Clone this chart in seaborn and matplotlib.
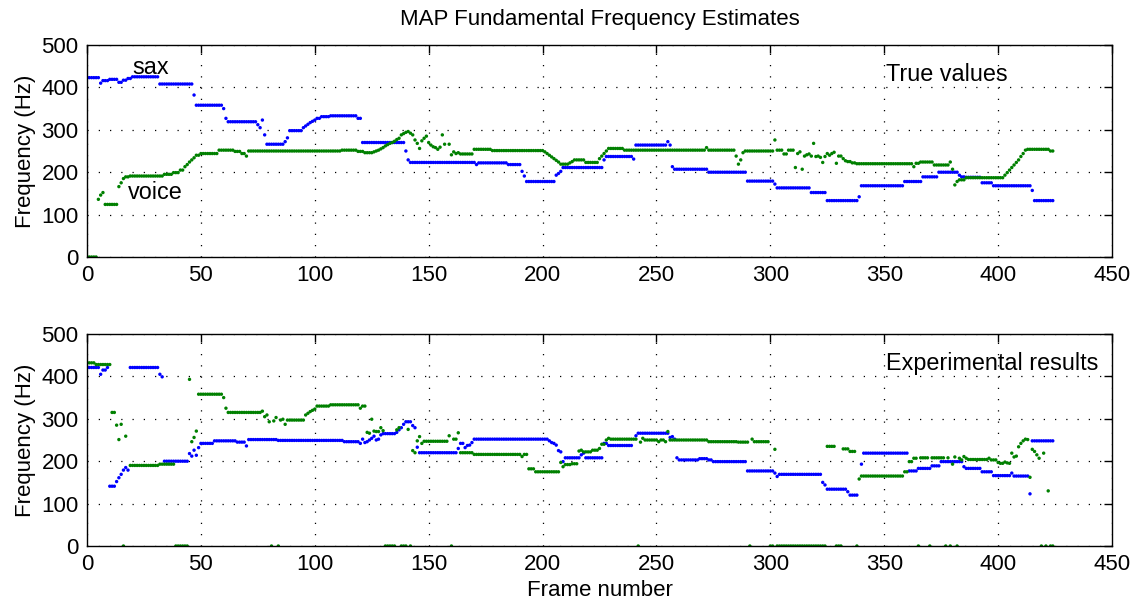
import numpy as np
import pandas as pd
import matplotlib
matplotlib.use('Agg')
import matplotlib.pyplot as plt
import seaborn as sns

# f0 tracks: (first frame, last frame, Hz); later entries overwrite earlier ones
N_FRAMES = 425

true_sax = [
    (0, 5, 423), (6, 6, 410), (7, 9, 416), (10, 13, 419), (14, 15, 412), (16, 17, 417), (18, 19, 421),
    (20, 31, 425), (32, 46, 408), (47, 47, 382), (48, 59, 358), (60, 60, 350), (61, 61, 327), (62, 74, 319),
    (75, 75, 312), (76, 76, 305), (77, 77, 323), (78, 78, 288), (79, 86, 266), (87, 87, 272), (88, 88, 281),
    (89, 94, 298), (95, 95, 305), (96, 96, 309), (97, 97, 313), (98, 98, 317), (99, 99, 320), (100, 100, 323),
    (101, 102, 327), (103, 106, 331), (107, 118, 333), (119, 120, 327), (121, 139, 270), (140, 140, 250),
    (141, 141, 229), (142, 170, 223), (171, 171, 218), (172, 184, 222), (185, 190, 218), (191, 191, 202),
    (192, 192, 191), (193, 205, 178), (206, 206, 193), (207, 207, 197), (208, 208, 202), (209, 226, 211),
    (227, 227, 229), (228, 239, 237), (240, 240, 231), (241, 254, 264), (255, 255, 272), (256, 256, 264),
    (257, 257, 213), (258, 272, 207), (273, 289, 200), (290, 301, 179), (302, 302, 172), (303, 317, 163),
    (318, 324, 152), (325, 338, 133), (339, 339, 142), (340, 358, 168), (359, 366, 178), (367, 373, 189),
    (374, 382, 200), (383, 383, 193), (384, 385, 189), (386, 392, 188), (393, 397, 175), (398, 414, 168),
    (415, 415, 157), (416, 424, 133),
]

true_voice = [
    (0, 4, 0), (5, 5, 136), (6, 6, 146), (7, 7, 152), (8, 13, 124), (14, 14, 166), (15, 15, 175), (16, 16, 185),
    (17, 18, 189), (19, 33, 191), (34, 37, 195), (38, 40, 199), (41, 42, 205), (43, 43, 213), (44, 44, 218),
    (45, 45, 224), (46, 46, 229), (47, 47, 234), (48, 49, 240), (50, 57, 244), (58, 64, 252), (65, 67, 249),
    (68, 69, 244), (70, 70, 238), (71, 111, 250), (112, 118, 252), (119, 121, 249), (122, 125, 246),
    (126, 126, 248), (127, 127, 250), (128, 128, 252), (129, 129, 255), (130, 130, 258), (131, 131, 262),
    (132, 132, 265), (133, 133, 268), (134, 134, 270), (135, 135, 273), (136, 136, 277), (137, 137, 280),
    (138, 138, 288), (139, 139, 291), (140, 140, 294), (141, 141, 296), (142, 142, 292), (143, 143, 288),
    (144, 144, 276), (145, 145, 268), (146, 146, 256), (147, 147, 274), (148, 148, 280), (149, 149, 285),
    (150, 150, 270), (151, 151, 264), (152, 152, 260), (153, 153, 258), (154, 154, 254), (155, 155, 259),
    (156, 156, 288), (157, 157, 266), (159, 159, 266), (160, 160, 241), (161, 161, 248), (162, 162, 244),
    (163, 163, 246), (164, 169, 243), (170, 177, 254), (178, 200, 251), (201, 201, 248), (202, 202, 244),
    (203, 203, 240), (204, 204, 236), (205, 205, 232), (206, 206, 228), (207, 207, 224), (208, 211, 219),
    (212, 212, 222), (213, 213, 225), (214, 218, 229), (219, 224, 223), (225, 225, 232), (226, 226, 238),
    (227, 227, 244), (228, 228, 250), (229, 235, 256), (236, 271, 252), (272, 272, 258), (273, 284, 252),
    (285, 285, 238), (286, 286, 219), (287, 287, 229), (288, 288, 246), (289, 301, 250), (302, 302, 276),
    (303, 305, 252), (306, 307, 243), (308, 310, 252), (311, 311, 211), (312, 312, 244), (313, 313, 248),
    (314, 314, 207), (315, 315, 238), (316, 316, 241), (317, 317, 243), (318, 318, 238), (319, 319, 268),
    (320, 320, 237), (321, 321, 238), (322, 322, 235), (323, 323, 223), (324, 324, 237), (325, 325, 244),
    (326, 326, 240), (327, 327, 244), (328, 328, 247), (329, 329, 221), (330, 331, 238), (332, 332, 232),
    (333, 333, 227), (334, 335, 225), (336, 337, 222), (338, 362, 220), (363, 363, 213), (364, 365, 221),
    (366, 371, 224), (372, 378, 217), (379, 379, 224), (380, 380, 207), (381, 381, 170), (382, 382, 178),
    (383, 385, 182), (386, 402, 187), (403, 403, 193), (404, 404, 199), (405, 405, 205), (406, 406, 211),
    (407, 407, 217), (408, 408, 223), (409, 409, 229), (410, 410, 237), (411, 411, 244), (412, 412, 252),
    (413, 422, 254), (423, 424, 250),
]

exp_sax = [
    (0, 5, 421), (6, 6, 405), (7, 8, 415), (9, 9, 421), (10, 12, 141), (13, 13, 152), (14, 14, 161),
    (15, 15, 169), (16, 16, 179), (17, 17, 185), (18, 18, 179), (19, 31, 421), (32, 32, 405), (33, 33, 399),
    (34, 44, 200), (45, 45, 218), (46, 46, 212), (47, 47, 226), (48, 48, 214), (49, 49, 232), (50, 55, 242),
    (56, 65, 248), (66, 69, 245), (70, 70, 236), (71, 83, 251), (84, 112, 249), (113, 119, 246),
    (120, 120, 242), (121, 121, 252), (122, 122, 244), (123, 123, 246), (124, 124, 250), (125, 125, 254),
    (126, 126, 259), (127, 127, 250), (128, 128, 252), (129, 129, 262), (130, 135, 265), (136, 136, 268),
    (137, 137, 274), (138, 138, 279), (139, 139, 287), (140, 142, 293), (143, 143, 284), (144, 144, 279),
    (145, 145, 233), (146, 162, 220), (163, 163, 230), (164, 165, 242), (166, 166, 232), (167, 167, 237),
    (168, 168, 238), (169, 169, 244), (170, 202, 252), (203, 203, 248), (204, 204, 244), (205, 205, 242),
    (206, 206, 238), (207, 207, 225), (208, 208, 222), (209, 209, 199), (210, 216, 208), (217, 217, 215),
    (218, 218, 219), (219, 226, 208), (227, 228, 242), (229, 239, 237), (241, 241, 260), (242, 255, 266),
    (256, 256, 256), (257, 257, 258), (258, 258, 252), (259, 259, 208), (260, 268, 203), (269, 272, 206),
    (273, 274, 203), (275, 289, 199), (290, 301, 177), (302, 302, 172), (303, 303, 164), (304, 322, 169),
    (323, 323, 150), (324, 324, 144), (325, 333, 134), (334, 334, 128), (335, 338, 120), (340, 340, 193),
    (341, 360, 219), (361, 364, 177), (365, 370, 183), (371, 374, 189), (375, 384, 199), (385, 385, 187),
    (386, 392, 183), (393, 397, 175), (398, 405, 166), (406, 406, 172), (407, 413, 165), (414, 414, 123),
    (415, 424, 248),
]

exp_voice = [
    (0, 3, 432), (4, 10, 428), (11, 12, 315), (13, 13, 285), (14, 14, 251), (15, 15, 287), (16, 16, 0),
    (17, 17, 259), (19, 31, 190), (32, 38, 193), (39, 44, 0), (45, 45, 393), (46, 46, 246), (47, 47, 256),
    (48, 48, 271), (49, 59, 358), (60, 60, 350), (61, 61, 325), (62, 76, 315), (77, 77, 318), (78, 78, 305),
    (79, 79, 309), (80, 80, 293), (81, 81, 0), (82, 82, 295), (83, 83, 303), (84, 84, 0), (85, 85, 297),
    (86, 86, 299), (87, 87, 287), (88, 95, 297), (96, 96, 309), (97, 97, 313), (98, 98, 317), (99, 99, 320),
    (100, 100, 323), (101, 106, 330), (107, 119, 333), (120, 120, 325), (121, 122, 330), (123, 123, 268),
    (124, 124, 266), (125, 125, 299), (126, 126, 271), (127, 128, 270), (129, 129, 279), (130, 130, 272),
    (131, 135, 0), (136, 136, 274), (137, 137, 279), (138, 140, 0), (141, 141, 275), (142, 142, 0),
    (143, 143, 225), (144, 144, 220), (145, 145, 248), (146, 146, 258), (147, 147, 242), (148, 158, 247),
    (159, 159, 260), (160, 160, 0), (161, 162, 252), (163, 163, 267), (164, 169, 220), (170, 190, 216),
    (191, 191, 211), (192, 193, 216), (194, 196, 182), (197, 207, 175), (208, 208, 197), (209, 209, 187),
    (210, 212, 192), (213, 215, 194), (216, 216, 224), (217, 217, 226), (218, 221, 222), (222, 224, 226),
    (225, 225, 230), (226, 227, 240), (228, 228, 250), (229, 229, 254), (230, 241, 252), (242, 242, 0),
    (243, 243, 245), (244, 244, 254), (245, 250, 250), (251, 251, 246), (252, 253, 250), (254, 254, 246),
    (255, 255, 270), (256, 272, 250), (273, 285, 246), (286, 290, 245), (291, 291, 0), (292, 292, 252),
    (293, 299, 246), (300, 324, 0), (302, 302, 228), (325, 328, 235), (329, 331, 0), (332, 334, 229),
    (335, 337, 223), (338, 338, 0), (339, 339, 158), (340, 358, 165), (359, 360, 175), (361, 362, 199),
    (363, 364, 207), (365, 365, 0), (366, 378, 208), (370, 370, 0), (377, 377, 0), (379, 379, 0),
    (380, 380, 193), (381, 381, 210), (382, 382, 0), (383, 383, 207), (384, 384, 203), (385, 385, 211),
    (386, 386, 207), (387, 395, 204), (396, 396, 207), (397, 399, 203), (400, 400, 197), (401, 402, 195),
    (403, 403, 198), (404, 404, 196), (405, 405, 195), (406, 406, 219), (407, 407, 210), (408, 408, 212),
    (409, 409, 234), (410, 410, 242), (411, 411, 248), (412, 412, 252), (413, 413, 251), (414, 414, 162),
    (415, 415, 228), (416, 416, 223), (417, 417, 215), (418, 418, 207), (419, 419, 0), (420, 420, 219),
    (421, 421, 0), (422, 422, 130), (423, 424, 0),
]

panel_names = ['True values', 'Experimental results']
colors = {'sax': '#0000ff', 'voice': '#008000'}
x_ticks = list(range(0, 451, 50))
y_ticks = list(range(0, 501, 100))


def expand(segments):
    vals = np.full(N_FRAMES, np.nan)
    for a, b, hz in segments:
        vals[a:b + 1] = hz
    return vals


rows = []
for panel, tracks in zip(panel_names, [(true_sax, true_voice), (exp_sax, exp_voice)]):
    for source, segs in zip(['sax', 'voice'], tracks):
        vals = expand(segs)
        for f in range(N_FRAMES):
            if not np.isnan(vals[f]):
                rows.append({'frame': f, 'hz': vals[f], 'source': source, 'panel': panel})
df = pd.DataFrame(rows)

sns.set_style('white')
plt.rcParams['font.family'] = ['Liberation Sans', 'DejaVu Sans']
plt.rcParams['font.size'] = 16
for key in ['text.color', 'axes.labelcolor', 'xtick.color', 'ytick.color']:
    plt.rcParams[key] = 'black'

fig = plt.figure(figsize=(11.33, 6.02), dpi=100)
ax_top = fig.add_axes([87 / 1133, 1 - 257 / 602, 1025 / 1133, 212 / 602])
ax_bot = fig.add_axes([87 / 1133, 1 - 546 / 602, 1025 / 1133, 212 / 602])

for ax, panel in zip([ax_top, ax_bot], panel_names):
    sub = df[df['panel'] == panel]
    sns.scatterplot(data=sub, x='frame', y='hz', hue='source', hue_order=['sax', 'voice'],
                    palette=colors, s=6, linewidth=0, legend=False, ax=ax)
    ax.set_xlim(0, 450)
    ax.set_ylim(0, 500)
    ax.set_xticks(x_ticks)
    ax.set_yticks(y_ticks)
    ax.grid(True, color='black', linestyle=(0, (1, 8)), linewidth=0.9)
    ax.tick_params(direction='in', top=True, right=True, length=6, width=1, labelsize=16, pad=6)
    for sp in ax.spines.values():
        sp.set_color('black')
        sp.set_linewidth(1)
    ax.set_ylabel('Frequency (Hz)', fontsize=16, labelpad=4)
    ax.set_xlabel('')
    ax.text(351, 430, panel, fontsize=16.8, va='center', ha='left')

ax_top.text(28, 448, 'sax', fontsize=16.8, ha='center', va='center')
ax_top.text(30, 151, 'voice', fontsize=16.8, ha='center', va='center')
ax_bot.set_xlabel('Frame number', fontsize=16, labelpad=3)

fig.text(599.5 / 1133, 1 - 20 / 602, 'MAP Fundamental Frequency Estimates', fontsize=16,
         ha='center', va='center')

fig.savefig('out.png', dpi=100)
plt.close(fig)
